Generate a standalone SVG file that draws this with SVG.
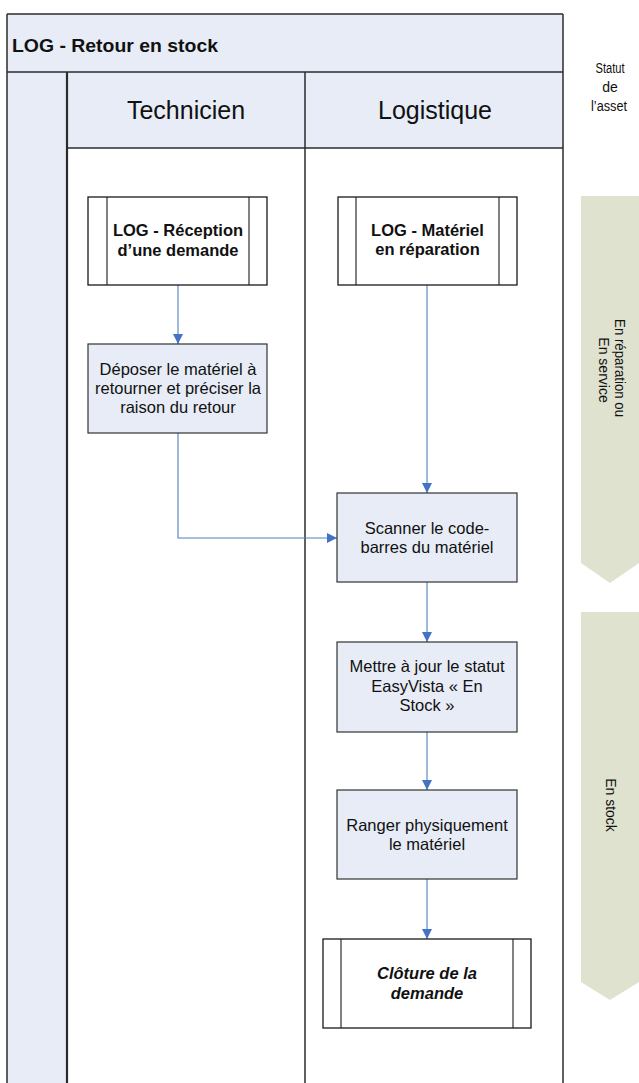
<svg xmlns="http://www.w3.org/2000/svg" width="639" height="1083" viewBox="0 0 639 1083">
  <style>
    .band { fill: #e7ecf6; }
    .frame { fill: none; stroke: #2b2b2b; stroke-width: 1.5; }
    .thick { fill: none; stroke: #2b2b2b; stroke-width: 2.2; }
    .sub { fill: #ffffff; stroke: #1a1a1a; stroke-width: 1.3; }
    .subin { fill: none; stroke: #1a1a1a; stroke-width: 1.1; }
    .proc { fill: #e7ecf6; stroke: #333333; stroke-width: 1.2; }
    .status { fill: #dee2cf; }
    .t { font-family: "Liberation Sans", Arial, sans-serif; fill: #111111; }
    .box { font-size: 16.5px; text-anchor: middle; }
    .bold { font-weight: bold; }
    .lane { font-size: 25px; text-anchor: middle; }
    .small { font-size: 14px; text-anchor: middle; }
    .conn { fill: none; stroke: #4f81bd; stroke-width: 1.1; }
  </style>
  <defs>
    <marker id="arrow" viewBox="0 0 10 10" refX="10" refY="5" markerWidth="10" markerHeight="10" markerUnits="userSpaceOnUse" orient="auto">
      <path d="M0,0 L10,5 L0,10 Z" fill="#4472c4"/>
    </marker>
  </defs>

  <!-- pool frame and lanes -->
  <g id="pool">
    <rect class="band" x="7" y="14" width="556" height="58"/>
    <rect class="band" x="7" y="72" width="60" height="1011"/>
    <rect class="band" x="67" y="72" width="496" height="76"/>
    <line class="frame" x1="7" y1="14" x2="563" y2="14"/>
    <line class="frame" x1="7" y1="14" x2="7" y2="1083"/>
    <line class="frame" x1="563" y1="14" x2="563" y2="1083"/>
    <line class="frame" x1="7" y1="72" x2="563" y2="72"/>
    <line class="frame" x1="67" y1="148" x2="563" y2="148"/>
    <line class="thick" x1="67" y1="72" x2="67" y2="1083"/>
    <line class="frame" x1="305" y1="72" x2="305" y2="1083"/>
    <text class="t bold" x="12" y="52" font-family="Lato, 'Liberation Sans', sans-serif" font-size="18" textLength="206" lengthAdjust="spacingAndGlyphs">LOG - Retour en stock</text>
    <text class="t lane" x="186" y="119">Technicien</text>
    <text class="t lane" x="435" y="119">Logistique</text>
  </g>

  <!-- asset status column -->
  <g id="status-header">
    <text class="t small" x="610" y="73" textLength="29" lengthAdjust="spacingAndGlyphs">Statut</text>
    <text class="t small" x="610" y="92">de</text>
    <text class="t small" x="609" y="111" textLength="36" lengthAdjust="spacingAndGlyphs">l’asset</text>
  </g>
  <g id="status-repair">
    <path class="status" d="M581,196 L639,196 L639,563 L610,583 L581,563 Z"/>
    <text class="t small" transform="translate(615,370) rotate(90)">
      <tspan x="0" y="0" textLength="98" lengthAdjust="spacingAndGlyphs">En réparation ou</tspan>
      <tspan x="0" y="16">En service</tspan>
    </text>
  </g>
  <g id="status-stock">
    <path class="status" d="M581,612 L639,612 L639,982 L610,1000 L581,982 Z"/>
    <text class="t small" transform="translate(605.5,805) rotate(90)">En stock</text>
  </g>

  <!-- connectors -->
  <g id="connectors">
    <path class="conn" d="M178,285 V344" marker-end="url(#arrow)"/>
    <path class="conn" d="M427,285 V493" marker-end="url(#arrow)"/>
    <path class="conn" d="M178,433 V538 H337" marker-end="url(#arrow)"/>
    <path class="conn" d="M427,582 V642" marker-end="url(#arrow)"/>
    <path class="conn" d="M427,732 V790" marker-end="url(#arrow)"/>
    <path class="conn" d="M427,879 V939" marker-end="url(#arrow)"/>
  </g>

  <!-- Technicien lane -->
  <g id="reception">
    <rect class="sub" x="88" y="197" width="179" height="88"/>
    <line class="subin" x1="107" y1="197" x2="107" y2="285"/>
    <line class="subin" x1="249" y1="197" x2="249" y2="285"/>
    <text class="t box bold" x="178" y="236">LOG - Réception</text>
    <text class="t box bold" x="178" y="256">d’une demande</text>
  </g>
  <g id="deposer">
    <rect class="proc" x="88" y="344" width="179" height="89"/>
    <text class="t box" x="178" y="375">Déposer le matériel à</text>
    <text class="t box" x="178" y="394">retourner et préciser la</text>
    <text class="t box" x="178" y="413">raison du retour</text>
  </g>

  <!-- Logistique lane -->
  <g id="reparation">
    <rect class="sub" x="338" y="197" width="179" height="88"/>
    <line class="subin" x1="356" y1="197" x2="356" y2="285"/>
    <line class="subin" x1="499" y1="197" x2="499" y2="285"/>
    <text class="t box bold" x="427.5" y="236">LOG - Matériel</text>
    <text class="t box bold" x="427.5" y="255">en réparation</text>
  </g>
  <g id="scanner">
    <rect class="proc" x="337" y="493" width="180" height="89"/>
    <text class="t box" x="427" y="534">Scanner le code-</text>
    <text class="t box" x="427" y="553">barres du matériel</text>
  </g>
  <g id="statut-stock">
    <rect class="proc" x="337" y="642" width="180" height="90"/>
    <text class="t box" x="427" y="672">Mettre à jour le statut</text>
    <text class="t box" x="427" y="691.5">EasyVista « En</text>
    <text class="t box" x="427" y="711">Stock »</text>
  </g>
  <g id="ranger">
    <rect class="proc" x="337" y="790" width="180" height="89"/>
    <text class="t box" x="427" y="831">Ranger physiquement</text>
    <text class="t box" x="427" y="850">le matériel</text>
  </g>
  <g id="cloture">
    <rect class="sub" x="323" y="939" width="208" height="89"/>
    <line class="subin" x1="341" y1="939" x2="341" y2="1028"/>
    <line class="subin" x1="513" y1="939" x2="513" y2="1028"/>
    <text class="t box bold" font-style="italic" x="427" y="979">Clôture de la</text>
    <text class="t box bold" font-style="italic" x="427" y="999">demande</text>
  </g>
</svg>
